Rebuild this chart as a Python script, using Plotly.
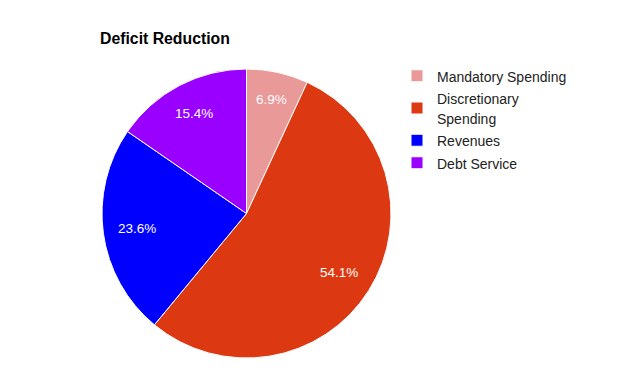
import math
import plotly.graph_objects as go

labels = ["Mandatory Spending", "Discretionary<br>Spending", "Revenues", "Debt Service"]
values = [6.9, 54.1, 23.6, 15.4]
colors = ["#ea9999", "#dc3912", "#0000ff", "#9900ff"]

W, H = 637, 383
OFF = 8  # page body margin offset in the browser

# pie geometry (figure pixels)
left, right, top, bottom = 102 - OFF, 391 - OFF, 69 - OFF, 358 - OFF
cx, cy = (left + right) / 2, (top + bottom) / 2
R = (right - left) / 2

legend_names = ['<span style="font-size:14px">%s</span>' % l for l in labels]

fig = go.Figure(go.Pie(
    labels=legend_names,
    values=values,
    sort=False,
    direction="clockwise",
    rotation=0,
    marker=dict(colors=colors, line=dict(color="white", width=1)),
    textinfo="none",
    hovertemplate="%{percent:.1%}<extra></extra>",
    domain=dict(x=[left / W, right / W], y=[1 - bottom / H, 1 - top / H]),
))

# slice labels, placed along each slice's mid-angle
total = sum(values)
cum = 0.0
hw, hh = 16, 7
for v in values:
    a = 2 * math.pi * (cum + v / 2) / total
    cum += v
    r = 0.88 * R - (hw * abs(math.sin(a)) + hh * abs(math.cos(a)))
    px = cx + r * math.sin(a)
    py = cy - r * math.cos(a)
    fig.add_annotation(
        x=px / W, y=1 - py / H, xref="paper", yref="paper",
        text="%.1f%%" % (100 * v / total), showarrow=False,
        xanchor="center", yanchor="middle",
        font=dict(color="white", size=13.5, family="Liberation Sans, Arial"),
    )

fig.update_layout(
    width=W, height=H,
    margin=dict(l=0, r=0, t=0, b=0),
    paper_bgcolor="white",
    plot_bgcolor="white",
    font=dict(family="Liberation Sans, Arial", size=14, color="#222222"),
    title=dict(
        text="<b>Deficit Reduction</b>",
        x=(100 - OFF) / W, xanchor="left", xref="paper",
        y=1 - (38 - OFF) / H, yanchor="middle", yref="paper",
        font=dict(size=15.8, color="#000000", family="Liberation Sans, Arial"),
    ),
    legend=dict(
        x=(397 - OFF) / W, xanchor="left",
        y=1 - (59.5 - OFF) / H, yanchor="top",
        font=dict(size=15, color="#222222", family="Liberation Sans, Arial"),
        bgcolor="rgba(0,0,0,0)",
    ),
    showlegend=True,
)

fig.write_html("out.html")
